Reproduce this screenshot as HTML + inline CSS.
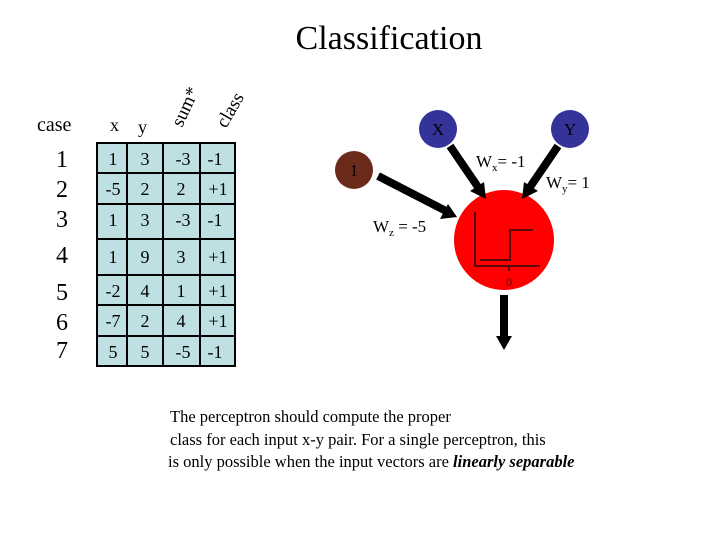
<!DOCTYPE html>
<html><head><style>body{margin:0;background:#fff}svg{display:block}</style></head>
<body>
<svg width="720" height="540" xmlns="http://www.w3.org/2000/svg" font-family="Liberation Serif, serif">
<text x="389" y="49" font-size="34" text-anchor="middle">Classification</text>
<text x="37" y="131" font-size="20">case</text>
<text x="110" y="131" font-size="18">x</text>
<text x="138" y="133" font-size="18">y</text>
<text x="0" y="0" font-size="19" transform="translate(182,128) rotate(-65)">sum*</text>
<text x="0" y="0" font-size="19" transform="translate(226,129) rotate(-60)">class</text>
<g font-size="24" text-anchor="middle">
<text x="62" y="167">1</text><text x="62" y="197">2</text><text x="62" y="227">3</text><text x="62" y="263">4</text>
<text x="62" y="300">5</text><text x="62" y="330">6</text><text x="62" y="358">7</text>
</g>
<rect x="97" y="143" width="138" height="223" fill="#bfe0e3" stroke="#000" stroke-width="2"/>
<g stroke="#000" stroke-width="2">
<line x1="127" y1="143" x2="127" y2="366"/><line x1="163" y1="143" x2="163" y2="366"/><line x1="200" y1="143" x2="200" y2="366"/>
<line x1="97" y1="173" x2="235" y2="173"/><line x1="97" y1="204" x2="235" y2="204"/><line x1="97" y1="239" x2="235" y2="239"/>
<line x1="97" y1="275" x2="235" y2="275"/><line x1="97" y1="305" x2="235" y2="305"/><line x1="97" y1="336" x2="235" y2="336"/>
</g>
<g font-size="18" text-anchor="middle">
<text x="113" y="165">1</text><text x="145" y="165">3</text><text x="183" y="165">-3</text><text x="215" y="165">-1</text>
<text x="113" y="195">-5</text><text x="145" y="195">2</text><text x="181" y="195">2</text><text x="218" y="195">+1</text>
<text x="113" y="226">1</text><text x="145" y="226">3</text><text x="183" y="226">-3</text><text x="215" y="226">-1</text>
<text x="113" y="263">1</text><text x="145" y="263">9</text><text x="181" y="263">3</text><text x="218" y="263">+1</text>
<text x="113" y="297">-2</text><text x="145" y="297">4</text><text x="181" y="297">1</text><text x="218" y="297">+1</text>
<text x="113" y="327">-7</text><text x="145" y="327">2</text><text x="181" y="327">4</text><text x="218" y="327">+1</text>
<text x="113" y="358">5</text><text x="145" y="358">5</text><text x="183" y="358">-5</text><text x="215" y="358">-1</text>
</g>
<circle cx="438" cy="129" r="19" fill="#333399"/>
<circle cx="570" cy="129" r="19" fill="#333399"/>
<circle cx="354" cy="170" r="19" fill="#6b2a1a"/>
<g font-size="17" text-anchor="middle"><text x="438" y="135">X</text><text x="570" y="135">Y</text><text x="354" y="176">1</text></g>
<circle cx="504" cy="240" r="50" fill="#ff0000"/>
<g stroke="#000" stroke-width="8">
<line x1="450" y1="146" x2="480" y2="190"/>
<line x1="558" y1="146" x2="528" y2="190"/>
<line x1="378" y1="176" x2="448" y2="212"/>
<line x1="504" y1="295" x2="504" y2="338"/>
</g>
<g fill="#000">
<polygon points="486,199 470,191 484,182"/>
<polygon points="522,199 524,182 538,191"/>
<polygon points="457,217 440,219 448,204"/>
<polygon points="504,350 496,336 512,336"/>
</g>
<g stroke="#5a0a0a" stroke-width="2" fill="none">
<polyline points="475,212 475,266 540,266"/>
<polyline points="480,260 510,260 510,230 533,230"/>
<line x1="509" y1="266" x2="509" y2="271"/>
</g>
<text x="509" y="286" font-size="12" fill="#5a0a0a" text-anchor="middle">0</text>
<text x="476" y="167" font-size="17">W<tspan font-size="11" dy="4">x</tspan><tspan dy="-4">= -1</tspan></text>
<text x="546" y="188" font-size="17">W<tspan font-size="11" dy="4">y</tspan><tspan dy="-4">= 1</tspan></text>
<text x="373" y="232" font-size="17">W<tspan font-size="11" dy="4">z</tspan><tspan dy="-4"> = -5</tspan></text>
<g font-size="16.5">
<text x="170" y="422">The perceptron should compute the proper</text>
<text x="170" y="445">class for each input x-y pair.  For a single perceptron, this</text>
<text x="168" y="467">is only possible when the input vectors are <tspan font-weight="bold" font-style="italic">linearly separable</tspan></text>
</g>
</svg>
</body></html>
